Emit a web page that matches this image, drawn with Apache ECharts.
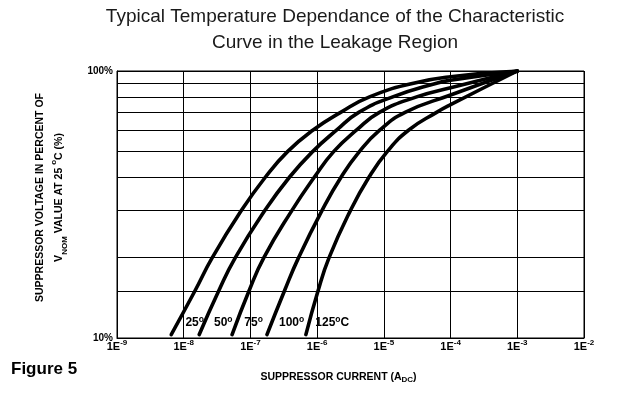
<!DOCTYPE html>
<html><head><meta charset="utf-8">
<script src="https://cdn.jsdelivr.net/npm/echarts@6/dist/echarts.min.js"></script>
<style>html,body{margin:0;padding:0;background:#fff}#c{width:634px;height:406px}</style>
</head><body><div id="c"></div>
<script>
// ---- data ----
const titleText = 'Typical Temperature Dependance of the Characteristic\nCurve in the Leakage Region';
const figureLabel = 'Figure 5';
const xExponents = [-9, -8, -7, -6, -5, -4, -3, -2];
const yTickLabels = { 10: '10%', 100: '100%' };
const yGridValues = [15, 20, 30, 40, 50, 60, 70, 80, 90];
const curveNames = ['25°', '50°', '75°', '100°', '125°C'];
const curve25 = [[6.5e-9,10.3],[1.47e-8,15],[2.68e-8,20],[7.3e-8,30],[1.67e-7,40],[3.63e-7,50],[8.6e-7,60],[2.25e-6,70],[6.1e-6,80],[2.78e-5,90],[1e-4,95.2],[1e-3,100]];
const curve50 = [[1.71e-8,10.3],[3.34e-8,15],[5.94e-8,20],[1.64e-7,30],[3.84e-7,40],[8.63e-7,50],[1.95e-6,60],[4.2e-6,70],[1.36e-5,80],[6.17e-5,90],[1e-4,92.3],[1e-3,100]];
const curve75 = [[5.31e-8,10.3],[9.51e-8,15],[1.59e-7,20],[4.17e-7,30],[9.05e-7,40],[1.78e-6,50],[3.87e-6,60],[8.57e-6,70],[3.1e-5,80],[1e-4,86.5],[1e-3,100]];
const curve100 = [[1.77e-7,10.3],[3.23e-7,15],[5.27e-7,20],[1.18e-6,30],[2.28e-6,40],[4.32e-6,50],[8.65e-6,60],[2.08e-5,70],[1e-4,81.3],[1e-3,100]];
const curve125 = [[6.78e-7,10.3],[1.03e-6,15],[1.51e-6,20],[3.15e-6,30],[5.97e-6,40],[1.13e-5,50],[2.34e-5,60],[6.17e-5,70],[1e-4,74.8],[1e-3,100]];
const curves = [curve25, curve50, curve75, curve100, curve125];
const labelNumbers = ['25', '50', '75', '100', '125'];
const labelSuffix = ['', '', '', '', 'C'];
const labelCoords = [[1.06e-8,11.4],[2.84e-8,11.4],[8.1e-8,11.4],[2.68e-7,11.4],[9.4e-7,11.4]];

// ---- chart ----
const FONT = '"Liberation Sans", Arial, Helvetica, sans-serif';
const chart = echarts.init(document.getElementById('c'), null, { renderer: 'canvas' });

const series = curves.map((d, i) => ({
  name: curveNames[i],
  type: 'line',
  data: d,
  showSymbol: false,
  smooth: 0.5,
  silent: true,
  lineStyle: { color: '#000', width: 3.6, cap: 'round', join: 'round' },
  markPoint: {
    symbol: 'circle', symbolSize: 0, silent: true, animation: false,
    label: {
      show: true, position: 'right', distance: 0,
      color: '#000', fontFamily: FONT, fontWeight: 'bold', fontSize: 12, lineHeight: 16,
      formatter: () => labelNumbers[i] + '{sup|o}' + labelSuffix[i],
      rich: { sup: { fontFamily: FONT, fontWeight: 'bold', fontSize: 8.5, lineHeight: 9, verticalAlign: 'top', color: '#000' } }
    },
    data: [{ coord: labelCoords[i] }]
  },
  markLine: i === 0 ? {
    silent: true, symbol: 'none', animation: false,
    label: { show: false },
    lineStyle: { color: '#000', width: 1, type: 'solid' },
    data: yGridValues.map(v => ({ yAxis: v }))
  } : undefined
}));

chart.setOption({
  animation: false,
  backgroundColor: '#fff',
  title: [
    { text: titleText, left: 335, top: 4, padding: 0, textAlign: 'center',
      textStyle: { fontFamily: FONT, fontWeight: 'normal', fontSize: 19, lineHeight: 26, color: '#1a1a1a' } },
    { text: figureLabel, left: 11, top: 361, padding: 0,
      textStyle: { fontFamily: FONT, fontWeight: 'bold', fontSize: 17, color: '#000' } }
  ],
  grid: { left: 117, right: 50, top: 71, bottom: 68, show: true, borderColor: '#000', borderWidth: 1, containLabel: false },
  xAxis: {
    type: 'log', logBase: 10, min: 1e-9, max: 1e-2, splitNumber: 7,
    name: 'SUPPRESSOR CURRENT (A{sub|DC})', nameLocation: 'middle', nameGap: 32,
    nameTextStyle: { fontFamily: FONT, fontWeight: 'bold', fontSize: 10.5, color: '#000', lineHeight: 14, padding: [0, 24, 0, 0],
      rich: { sub: { fontFamily: FONT, fontWeight: 'bold', fontSize: 8, lineHeight: 8, verticalAlign: 'bottom', color: '#000' } } },
    axisLine: { show: true, lineStyle: { color: '#000', width: 1 } },
    axisTick: { show: false },
    splitLine: { show: true, lineStyle: { color: '#000', width: 1 } },
    axisLabel: {
      margin: 1, color: '#000', fontFamily: FONT, fontWeight: 'bold', fontSize: 11, lineHeight: 15,
      formatter: (v) => {
        const e = Math.round(Math.log10(v));
        return xExponents.indexOf(e) >= 0 ? '1E{sup|' + e + '}' : '';
      },
      rich: { sup: { fontFamily: FONT, fontWeight: 'bold', fontSize: 8, lineHeight: 8, verticalAlign: 'top', color: '#000' } }
    }
  },
  yAxis: {
    type: 'log', logBase: 10, min: 10, max: 100,
    name: 'SUPPRESSOR VOLTAGE IN PERCENT OF\nV{sub|NOM} VALUE AT 25 {sup|o}C (%)',
    nameLocation: 'middle', nameRotate: 90, nameGap: 48,
    nameTextStyle: { fontFamily: FONT, fontWeight: 'bold', fontSize: 10.5, color: '#000', lineHeight: 19, padding: [0, 0, 0, 14],
      rich: {
        sub: { fontFamily: FONT, fontWeight: 'bold', fontSize: 8, lineHeight: 8, verticalAlign: 'bottom', color: '#000' },
        sup: { fontFamily: FONT, fontWeight: 'bold', fontSize: 8, lineHeight: 8, verticalAlign: 'top', color: '#000' }
      } },
    axisLine: { show: true, lineStyle: { color: '#000', width: 1 } },
    axisTick: { show: false },
    splitLine: { show: true, lineStyle: { color: '#000', width: 1 } },
    axisLabel: {
      margin: 4, color: '#000', fontFamily: FONT, fontWeight: 'bold', fontSize: 10,
      formatter: (v) => yTickLabels[Math.round(v)] || ''
    }
  },
  series: series
});
</script>
</body></html>
